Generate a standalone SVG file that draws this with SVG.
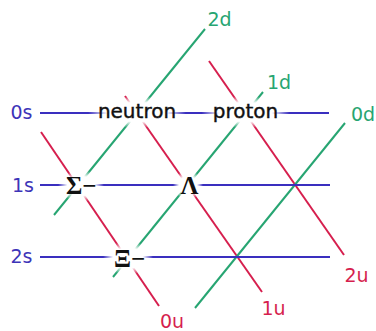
<svg xmlns="http://www.w3.org/2000/svg" width="376" height="331" viewBox="0 0 376 331">
  <style>
    .u { stroke: #d61f4e; stroke-width: 2; fill: none; }
    .d { stroke: #27a572; stroke-width: 2; fill: none; }
    .s { stroke: #3a2fbf; stroke-width: 2; fill: none; }
    .lbl { font-family: "DejaVu Sans", "Liberation Sans", sans-serif; font-size: 19px; text-anchor: middle; }
    .lu { fill: #d61f4e; }
    .ld { fill: #27a572; }
    .ls { fill: #3d34b8; }
    .part { font-family: "DejaVu Sans", "Liberation Sans", sans-serif; font-size: 20px; fill: #111; stroke: #111; stroke-width: 0.4; text-anchor: middle; }
    .greek { font-family: "Liberation Serif", "DejaVu Serif", serif; font-size: 25px; font-weight: bold; fill: #111; }
    .fade { fill: url(#fade); }
  </style>
  <defs>
    <radialGradient id="fade">
      <stop offset="0" stop-color="#fff" stop-opacity="1"/>
      <stop offset="0.6" stop-color="#fff" stop-opacity="1"/>
      <stop offset="1" stop-color="#fff" stop-opacity="0"/>
    </radialGradient>
  </defs>
  <rect width="376" height="331" fill="#fff"/>

  <g id="connectors">
    <line class="u" x1="41" y1="132" x2="159" y2="306"/>
    <line class="u" x1="125" y1="96" x2="262" y2="292"/>
    <line class="u" x1="209" y1="61" x2="344" y2="255"/>
    <line class="d" x1="205" y1="29" x2="54" y2="215"/>
    <line class="d" x1="263" y1="92" x2="113" y2="277"/>
    <line class="d" x1="345" y1="123" x2="195" y2="308"/>
    <line class="s" x1="40" y1="113" x2="329" y2="113"/>
    <line class="s" x1="40" y1="185" x2="330" y2="185"/>
    <line class="s" x1="40" y1="257" x2="330" y2="257"/>
  </g>

  <g id="neutron">
    <ellipse class="fade" cx="137" cy="112" rx="49" ry="16"/>
    <text class="part" x="137" y="117.5">neutron</text>
  </g>
  <g id="proton">
    <ellipse class="fade" cx="245.5" cy="112" rx="44" ry="16"/>
    <text class="part" x="245.5" y="117.5">proton</text>
  </g>
  <g id="sigma">
    <ellipse class="fade" cx="81" cy="186" rx="23" ry="16"/>
    <text class="greek" x="66" y="194">Σ−</text>
  </g>
  <g id="lambda">
    <ellipse class="fade" cx="188" cy="185" rx="15" ry="15"/>
    <text class="greek" x="189.5" y="194" text-anchor="middle">Λ</text>
  </g>
  <g id="xi">
    <ellipse class="fade" cx="128" cy="258" rx="25" ry="17"/>
    <text class="greek" x="114" y="267">Ξ−</text>
  </g>

  <g id="label-0s"><text class="lbl ls" x="21.5" y="119">0s</text></g>
  <g id="label-1s"><text class="lbl ls" x="23" y="191.5">1s</text></g>
  <g id="label-2s"><text class="lbl ls" x="21.5" y="263">2s</text></g>
  <g id="label-2d"><text class="lbl ld" x="219.5" y="26">2d</text></g>
  <g id="label-1d"><text class="lbl ld" x="279" y="89">1d</text></g>
  <g id="label-0d"><text class="lbl ld" x="363" y="121">0d</text></g>
  <g id="label-2u"><text class="lbl lu" x="356.5" y="282">2u</text></g>
  <g id="label-1u"><text class="lbl lu" x="273.5" y="315">1u</text></g>
  <g id="label-0u"><text class="lbl lu" x="172" y="327.5">0u</text></g>
</svg>
